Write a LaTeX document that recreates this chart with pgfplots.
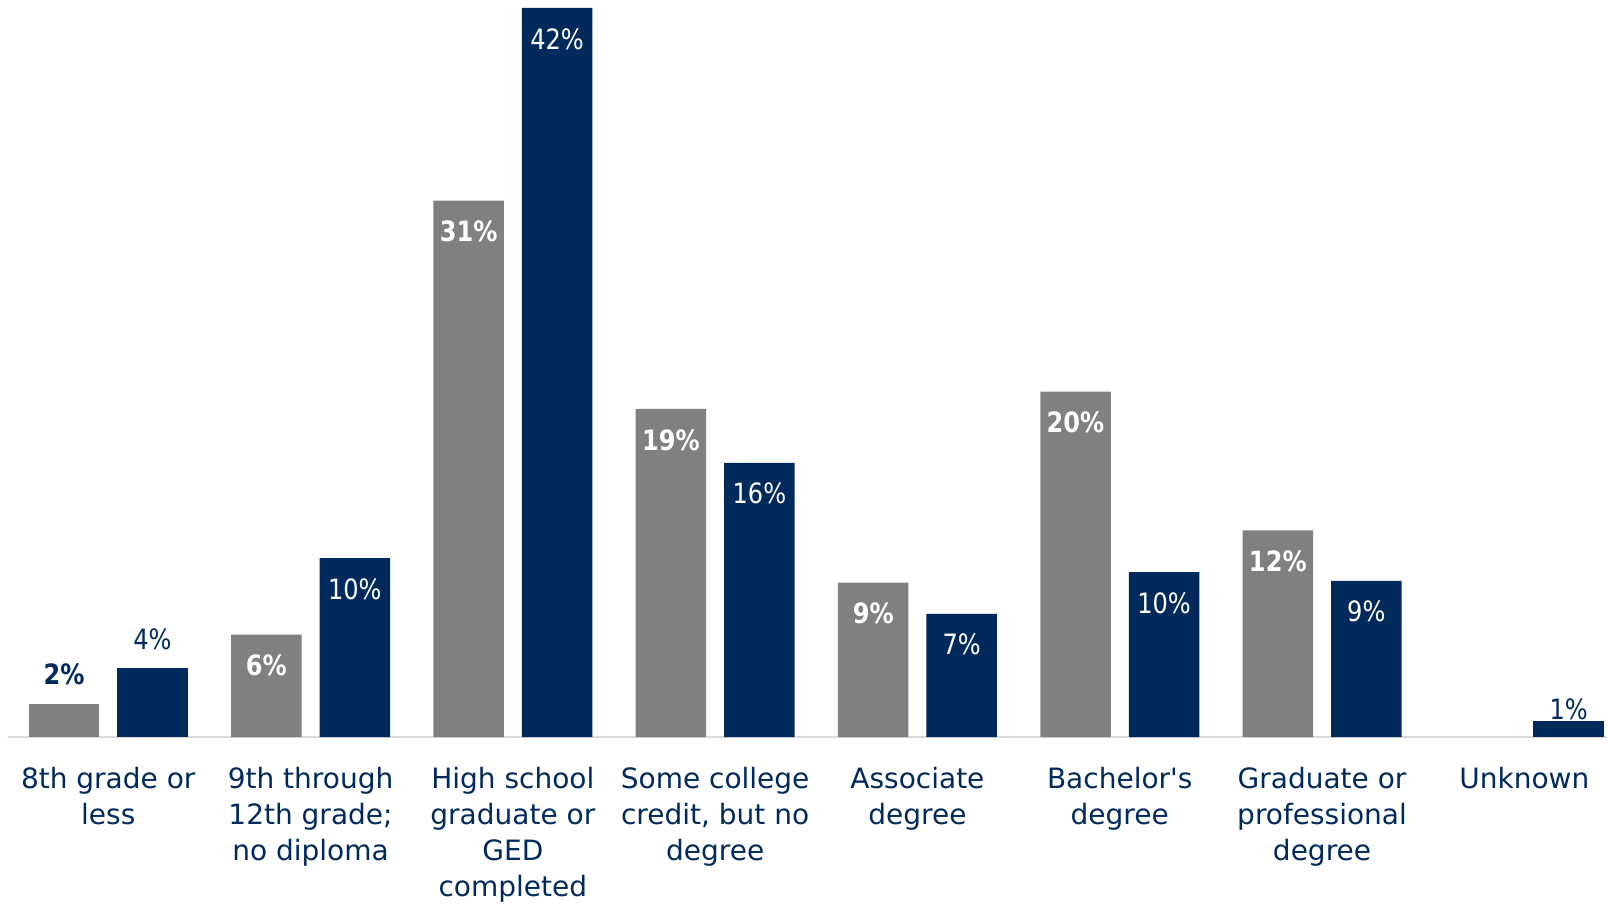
\documentclass[border=0pt]{standalone}
\usepackage{fontspec}
\setmainfont{DejaVu Sans}
\newfontfamily\narrowsans[FakeStretch=0.86]{DejaVu Sans}
\usepackage{pgfplots}
\pgfplotsset{compat=1.18}

\definecolor{barGray}{RGB}{128,128,128}
\definecolor{navy}{RGB}{0,42,92}
\definecolor{axisGray}{RGB}{217,217,217}

\newcommand{\lblfont}{\fontsize{14}{18}\selectfont}
\newcommand{\valfont}{\narrowsans\fontsize{14}{18}\selectfont}

\begin{document}
\begin{tikzpicture}
\begin{axis}[
  name=ax,
  scale only axis,
  width=799.5pt, height=368.5pt,
  xmin=-0.4956, xmax=7.4086,
  ymin=0, ymax=42.46,
  ybar, bar width=35.25pt,
  axis x line*=bottom, axis y line=none,
  x axis line style={draw=axisGray, line width=1pt, -},
  xtick={0,...,7},
  xticklabels={{8th grade or\\less},
               {9th through\\12th grade;\\no diploma},
               {High school\\graduate or\\GED\\completed},
               {Some college\\credit, but no\\degree},
               {Associate\\degree},
               {Bachelor\textquotesingle s\\degree},
               {Graduate or\\professional\\degree},
               {Unknown}},
  major tick length=0pt,
  xticklabel style={font=\lblfont, text=navy, align=center,
                    anchor=north, inner sep=0pt, yshift=-15pt},
  point meta=explicit symbolic,
  nodes near coords,
  clip=false,
]
% gray series, labels inside the bars
\addplot[fill=barGray, draw=none, bar shift=-22.125pt,
  every node near coord/.append style={font=\valfont\bfseries, text=white,
    anchor=north, inner sep=0pt, yshift=-10pt}]
  coordinates {(1,5.9) [6\%] (2,30.9) [31\%] (3,18.9) [19\%]
               (4,8.9) [9\%] (5,19.9) [20\%] (6,11.9) [12\%]};
% gray series, label above the bar
\addplot[fill=barGray, draw=none, bar shift=-22.125pt,
  every node near coord/.append style={font=\valfont\bfseries, text=navy,
    anchor=base, inner sep=0pt, yshift=10pt}]
  coordinates {(0,1.9) [2\%]};
% navy series, labels inside the bars
\addplot[fill=navy, draw=none, bar shift=22.125pt,
  every node near coord/.append style={font=\valfont, text=white,
    anchor=north, inner sep=0pt, yshift=-10pt}]
  coordinates {(1,10.3) [10\%] (2,42) [42\%] (3,15.8) [16\%]
               (4,7.1) [7\%] (5,9.5) [10\%] (6,9.0) [9\%]};
% navy series, labels above the bars
\addplot[fill=navy, draw=none, bar shift=22.125pt,
  every node near coord/.append style={font=\valfont, text=navy,
    anchor=base, inner sep=0pt, yshift=9pt}]
  coordinates {(0,4.0) [4\%]};
\addplot[fill=navy, draw=none, bar shift=22.125pt,
  every node near coord/.append style={font=\valfont, text=navy,
    anchor=base, inner sep=0pt, yshift=1pt}]
  coordinates {(7,0.92) [1\%]};
\end{axis}
\pgfresetboundingbox
\path[use as bounding box] ([xshift=-4pt,yshift=-84pt]ax.south west) rectangle (ax.north east);
\end{tikzpicture}
\end{document}
